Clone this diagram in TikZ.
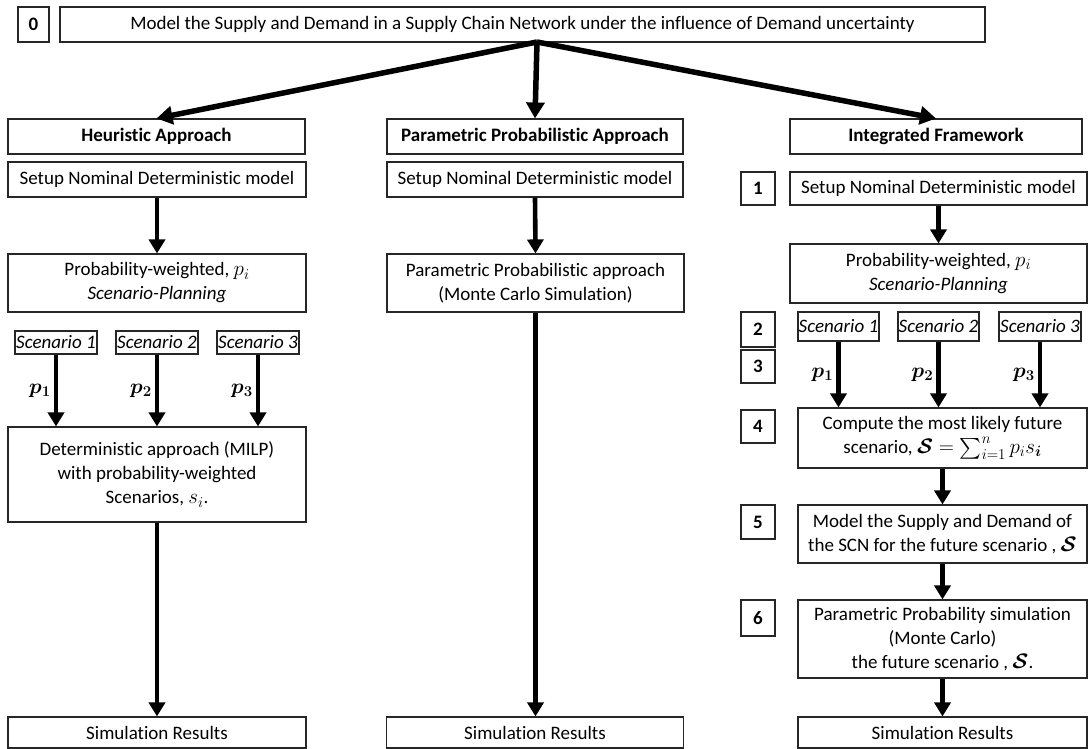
\RequirePackage{fix-cm}
\documentclass[tikz,border=0pt]{standalone}
\usepackage{amsmath}
\usepackage{fontspec}
\setmainfont{Carlito}[Ligatures={NoCommon}]
\DeclareMathSizes{19}{21}{15}{12}
\usetikzlibrary{arrows.meta}

\begin{document}
\begin{tikzpicture}[x=1pt,y=-1pt,
  bx/.style={draw=black!85, line width=1.1pt, inner sep=0pt, align=center,
    font=\fontsize{19}{24}\selectfont},
  numbox/.style={bx, minimum width=34pt, font=\fontsize{19}{24}\selectfont\bfseries},
  scen/.style={bx, font=\fontsize{19}{24}\selectfont\itshape},
  arr/.style={line width=4.6pt, -{Triangle[width=16pt,length=14pt]}},
  toparr/.style={line width=5.5pt, -{Triangle[width=18pt,length=16pt]}},
  plab/.style={left, inner sep=3pt, font=\fontsize{19}{24}\selectfont}
]
\useasboundingbox (0,0) rectangle (1088,749);

% title row
\node[numbox, minimum width=31pt, minimum height=35pt] (n0) at (33.5,24.5) {0};
\node[bx, minimum width=925pt, minimum height=35pt] (title) at (522.5,24.5)
  {Model the Supply and Demand in a Supply Chain Network under the influence of Demand uncertainty};
\coordinate (fork) at (537,42);

% column headers
\node[bx, minimum width=297pt, minimum height=35pt, font=\fontsize{19}{24}\selectfont\bfseries] (hH) at (156.5,136.5) {Heuristic Approach};
\node[bx, minimum width=296pt, minimum height=35pt, font=\fontsize{19}{24}\selectfont\bfseries] (hP) at (535,136.5) {Parametric Probabilistic Approach};
\node[bx, minimum width=292pt, minimum height=35pt, font=\fontsize{19}{24}\selectfont\bfseries] (hI) at (936,136.5) {Integrated Framework};

\draw[toparr] (fork) -- (hH.north);
\draw[toparr] (fork) -- (hP.north);
\draw[toparr] (fork) -- (hI.north);

% heuristic column
\node[bx, minimum width=298pt, minimum height=35pt] (sL) at (157,179.5) {Setup Nominal Deterministic model};
\node[bx, minimum width=298pt, minimum height=58pt] (pL) at (157,283)
  {Probability-weighted, $p_i$\\ \textit{Scenario-Planning}};
\node[scen, minimum width=82pt, minimum height=23pt] (sc1L) at (56,342.5) {Scenario 1};
\node[scen, minimum width=82pt, minimum height=23pt] (sc2L) at (157,342.5) {Scenario 2};
\node[scen, minimum width=82pt, minimum height=23pt] (sc3L) at (258,342.5) {Scenario 3};
\node[bx, minimum width=298pt, minimum height=95pt] (mL) at (157,474.5)
  {Deterministic approach (MILP)\\ with probability-weighted\\ Scenarios, $s_i$.};
\node[bx, minimum width=298pt, minimum height=31pt] (rL) at (157,732.5) {Simulation Results};

\draw[arr] (sL.south) -- (pL.north);
\draw[arr] (sc1L.south) -- node[plab] {$\boldsymbol{p_1}$} (sc1L.south |- mL.north);
\draw[arr] (sc2L.south) -- node[plab] {$\boldsymbol{p_2}$} (sc2L.south |- mL.north);
\draw[arr] (sc3L.south) -- node[plab] {$\boldsymbol{p_3}$} (sc3L.south |- mL.north);
\draw[arr] (mL.south) -- (rL.north);

% parametric column
\node[bx, minimum width=296pt, minimum height=35pt] (sM) at (535,179.5) {Setup Nominal Deterministic model};
\node[bx, minimum width=297pt, minimum height=58pt] (pM) at (535.5,283)
  {Parametric Probabilistic approach\\ (Monte Carlo Simulation)};
\node[bx, minimum width=297pt, minimum height=31pt] (rM) at (535,732.5) {Simulation Results};

\draw[arr] (sM.south) -- (pM.north);
\draw[arr] (pM.south) -- (pM.south |- rM.north);

% integrated framework column
\node[numbox, minimum height=33pt] (n1) at (758,188.5) {1};
\node[bx, minimum width=297pt, minimum height=33pt] (sR) at (938.5,188.5) {Setup Nominal Deterministic model};
\node[bx, minimum width=297pt, minimum height=59pt] (pR) at (938.5,273.5)
  {Probability-weighted, $p_i$\\ \textit{Scenario-Planning}};
\node[numbox, minimum height=35pt] (n2) at (758,329.5) {2};
\node[numbox, minimum height=33pt] (n3) at (758,366.5) {3};
\node[scen, minimum width=81pt, minimum height=29pt] (sc1R) at (838.5,326.5) {Scenario 1};
\node[scen, minimum width=81pt, minimum height=29pt] (sc2R) at (938.5,326.5) {Scenario 2};
\node[scen, minimum width=82pt, minimum height=29pt] (sc3R) at (1040,326.5) {Scenario 3};
\node[numbox, minimum height=33pt] (n4) at (758,426.5) {4};
\node[bx, minimum width=289pt, minimum height=60pt] (cR) at (942.5,438)
  {Compute the most likely future\\ scenario, $\boldsymbol{\mathcal{S}} = \sum_{i=1}^{n} p_i s_{\boldsymbol{i}}$};
\node[numbox, minimum height=34pt] (n5) at (758,522) {5};
\node[bx, minimum width=289pt, minimum height=58pt] (mR) at (942.5,534)
  {Model the Supply and Demand of\\ the SCN for the future scenario , $\boldsymbol{\mathcal{S}}$};
\node[numbox, minimum height=36pt] (n6) at (758,618) {6};
\node[bx, minimum width=289pt, minimum height=78pt] (ppR) at (942.5,639)
  {Parametric Probability simulation\\ (Monte Carlo)\\ the future scenario , $\boldsymbol{\mathcal{S}}$.};
\node[bx, minimum width=289pt, minimum height=31pt] (rR) at (942.5,732.5) {Simulation Results};

\draw[arr] (sR.south) -- (pR.north);
\draw[arr] (sc1R.south) -- node[plab] {$\boldsymbol{p_1}$} (sc1R.south |- cR.north);
\draw[arr] (sc2R.south) -- node[plab] {$\boldsymbol{p_2}$} (sc2R.south |- cR.north);
\draw[arr] (sc3R.south) -- node[plab] {$\boldsymbol{p_3}$} (sc3R.south |- cR.north);
\draw[arr] (cR.south) -- (mR.north);
\draw[arr] (mR.south) -- (ppR.north);
\draw[arr] (ppR.south) -- (rR.north);
\end{tikzpicture}
\end{document}
